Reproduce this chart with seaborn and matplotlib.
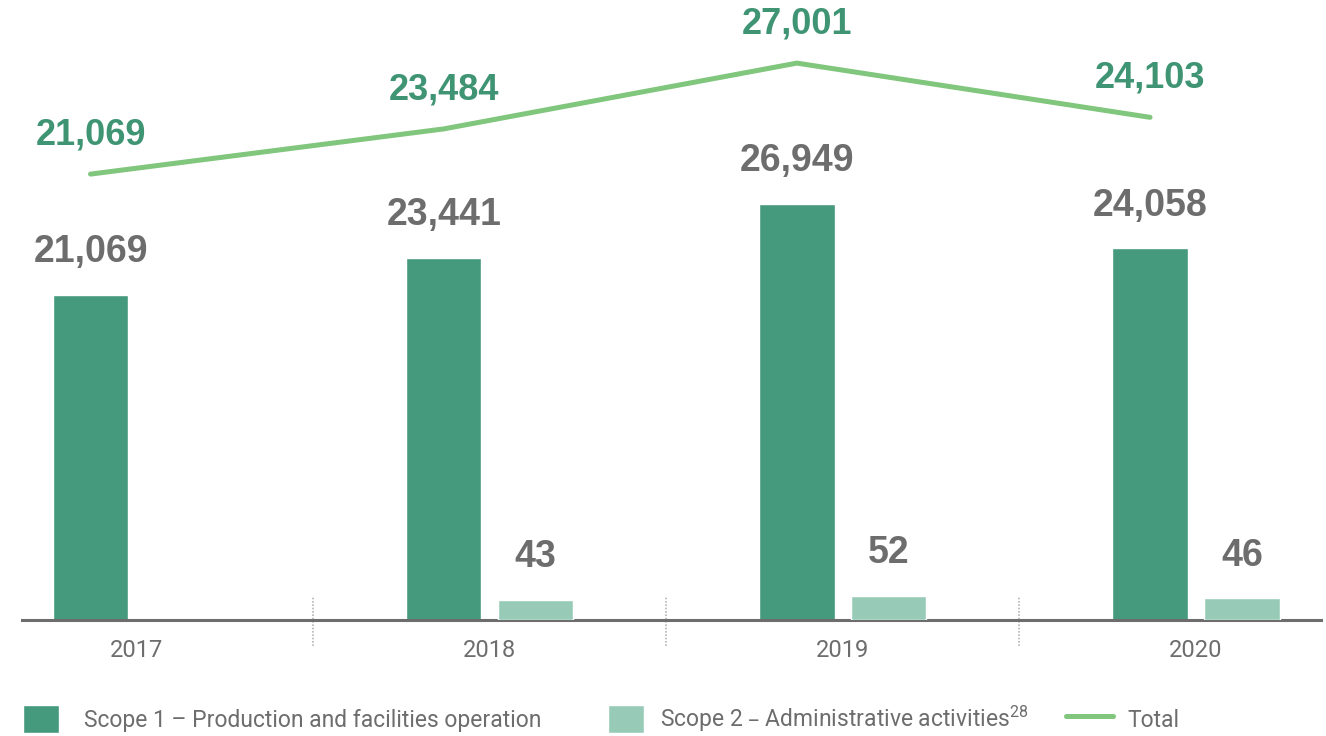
import numpy as np
import pandas as pd
import matplotlib
matplotlib.use("Agg")
import matplotlib.pyplot as plt
from matplotlib.patches import Patch
from matplotlib.lines import Line2D
import seaborn as sns

# =========================
# DATA
# =========================
years = ["2017", "2018", "2019", "2020"]
scope1 = [21069, 23441, 26949, 24058]
scope2 = [np.nan, 43, 52, 46]
total = [21069, 23484, 27001, 24103]

s1_label = "Scope 1 – Production and facilities operation"
s2_label = "Scope 2 – Administrative activities$^{28}$"
tot_label = "Total"

# =========================
# STYLE
# =========================
C_S1 = "#459a7e"
C_S2 = "#97cbb8"
C_LINE = "#80c67c"
C_GREEN = "#3f9474"
C_GREY = "#6d6d6d"

sns.set_theme(style="white")
BOLD = "Liberation Sans"
plt.rcParams["font.family"] = ["Roboto", "DejaVu Sans"]
plt.rcParams["mathtext.default"] = "regular"

fig = plt.figure(figsize=(13.26, 7.36), dpi=100)
ax = fig.add_axes([22 / 1326, 116 / 736, 1299 / 1326, 620 / 736])

hue_order = [s1_label, s2_label]
palette = {s1_label: C_S1, s2_label: C_S2}
df1 = pd.DataFrame({"year": years, "value": scope1, "series": s1_label})
df2 = pd.DataFrame({"year": years, "value": scope2, "series": s2_label})

# scope 1 bars
sns.barplot(data=df1, x="year", y="value", hue="series", hue_order=hue_order,
            order=years, palette=palette, width=0.52, gap=0.18, dodge=True,
            saturation=1, errorbar=None, legend=False, ax=ax)

# scope 2 bars (own scale, much smaller numbers)
ax2 = ax.twinx()
sns.barplot(data=df2, x="year", y="value", hue="series", hue_order=hue_order,
            order=years, palette=palette, width=0.52, gap=0.18, dodge=True,
            saturation=1, errorbar=None, legend=False, ax=ax2)

# total line, drawn through the scope 1 bar centres
s1_x = [p.get_x() + p.get_width() / 2 for p in ax.patches if np.isfinite(p.get_height())]
ax3 = ax.twinx()
sns.lineplot(x=s1_x, y=total, ax=ax3, color=C_LINE, linewidth=3.6,
             solid_capstyle="round")

ax.set_xlim(-0.324, 3.354)
ax.set_ylim(0, 40150)
ax2.set_ylim(0, 1318)
ax3.set_ylim(-2763, 30374)

# value labels
for a in (ax, ax2):
    for p in a.patches:
        h = p.get_height()
        if not np.isfinite(h) or h == 0:
            continue
        a.annotate(f"{int(h):,}", (p.get_x() + p.get_width() / 2, h),
                   xytext=(0, 23.5), textcoords="offset points",
                   ha="center", va="baseline", color=C_GREY,
                   fontsize=27, fontweight="bold", family=BOLD)

for x, v in zip(s1_x, total):
    ax3.annotate(f"{v:,}", (x, v), xytext=(0, 21.5), textcoords="offset points",
                 ha="center", va="baseline", color=C_GREEN,
                 fontsize=26, fontweight="bold", family=BOLD)

# dotted separators between years
for i in range(len(years) - 1):
    ax.plot([i + 0.5, i + 0.5], [-0.042, 0.039], transform=ax.get_xaxis_transform(),
            clip_on=False, color="#b5b5b5", lw=1.2, ls=(0, (1, 1)))

# axes cleanup
for a in (ax, ax2, ax3):
    a.set_ylabel("")
    a.set_xlabel("")
    a.set_yticks([])
    for s in ("top", "left", "right"):
        a.spines[s].set_visible(False)
ax2.spines["bottom"].set_visible(False)
ax3.spines["bottom"].set_visible(False)
ax.spines["bottom"].set_color(C_GREY)
ax.spines["bottom"].set_linewidth(2.2)
ax.tick_params(axis="x", length=0, pad=13.5, labelsize=17, labelcolor=C_GREY)

# legend: three single entries placed like the original
LEG_FS = 16.5
entries = [
    (Patch(facecolor=C_S1), s1_label, 23, 1.57, 1.1),
    (Patch(facecolor=C_S2), s2_label, 608, 1.57, 0.68),
    (Line2D([], [], color=C_LINE, lw=3.6, solid_capstyle="round"), tot_label, 1066, 2.05, 0.62),
]
for handle, label, x0, hlen, pad in entries:
    fig.legend([handle], [label], loc="center left",
               bbox_to_anchor=(x0 / 1326, 1 - 719 / 736), frameon=False,
               fontsize=LEG_FS, labelcolor=C_GREY, handlelength=hlen,
               handleheight=1.5, handletextpad=pad, borderaxespad=0, borderpad=0)

fig.savefig("out.png", dpi=100)
